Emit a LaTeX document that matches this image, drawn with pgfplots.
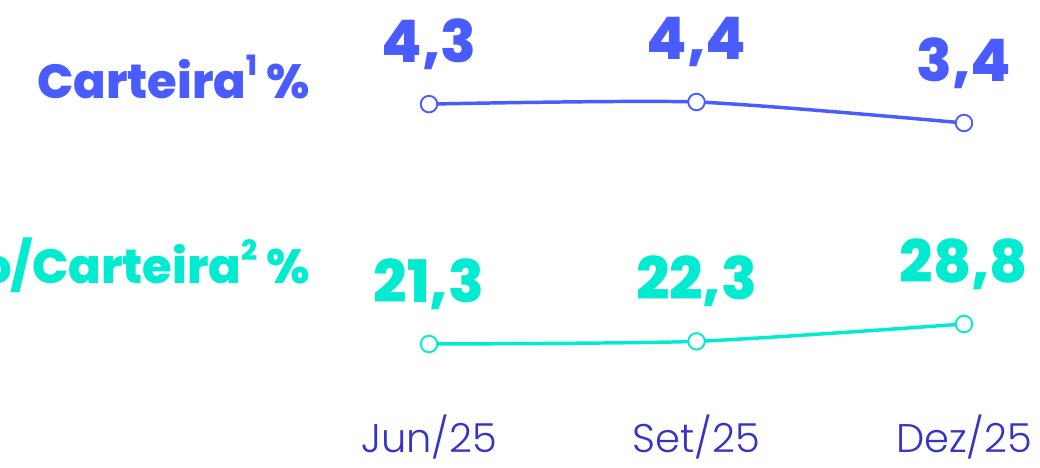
\documentclass[border=0pt]{standalone}
\usepackage{pgfplots}
\pgfplotsset{compat=1.18}
\usepackage{fontspec}
\setmainfont{Poppins}
\newfontfamily\heavy{Poppins ExtraBold}
\newfontfamily\thin{Poppins Light}
\definecolor{cblue}{HTML}{4A5CFF}
\definecolor{ccyan}{HTML}{00EBCF}
\definecolor{ctick}{HTML}{3434C8}
\newcommand{\supnum}[1]{\raisebox{0.85ex}{\fontsize{21}{21}\selectfont #1}}
\begin{document}
\begin{tikzpicture}
\pgfplotsset{
  base/.style={
    scale only axis, clip=false,
    xmin=0, xmax=2, width=401.25pt,
    axis line style={draw=none}, tick style={draw=none},
    ytick=\empty,
    point meta=explicit symbolic,
    nodes near coords,
    every node near coord/.style={anchor=center, yshift=45pt, font=\heavy\fontsize{44}{44}\selectfont},
  }
}
% blue series
\begin{axis}[base, at={(321.75pt,258.75pt)}, anchor=south west,
  ymin=3.4, ymax=4.4, height=15.75pt, xtick=\empty,
  every node near coord/.append style={color=cblue}]
\addplot[cblue, line width=2.6pt, smooth, tension=0.4, mark=*, mark size=6.2pt,
  mark options={fill=white, draw=cblue, line width=1.4pt}]
  coordinates {(0,4.3)[4,3] (1,4.4)[4,4] (2,3.4)[3,4]};
\end{axis}
% cyan series
\begin{axis}[base, at={(321.75pt,93pt)}, anchor=south west,
  ymin=21.3, ymax=28.8, height=15pt,
  xtick={0,1,2}, xticklabels={Jun/25,Set/25,Dez/25},
  xticklabel style={anchor=center, inner sep=0pt, yshift=-70pt, color=ctick, font=\thin\fontsize{30}{30}\selectfont},
  every node near coord/.append style={color=ccyan}]
\addplot[ccyan, line width=2.6pt, smooth, tension=0.4, mark=*, mark size=6.2pt,
  mark options={fill=white, draw=ccyan, line width=1.4pt}]
  coordinates {(0,21.3)[21,3] (1,22.3)[22,3] (2,28.8)[28,8]};
\end{axis}
\node[anchor=east, inner sep=0pt, color=cblue, font=\heavy\fontsize{36}{36}\selectfont] at (232.5pt,293pt) {Carteira\supnum{1} \%};
\node[anchor=east, inner sep=0pt, color=ccyan, font=\heavy\fontsize{36}{36}\selectfont] at (232.5pt,152pt) {Provisão/Carteira\supnum{2} \%};
\pgfresetboundingbox
\path[use as bounding box] (0,0) rectangle (780pt,351pt);
\end{tikzpicture}
\end{document}
